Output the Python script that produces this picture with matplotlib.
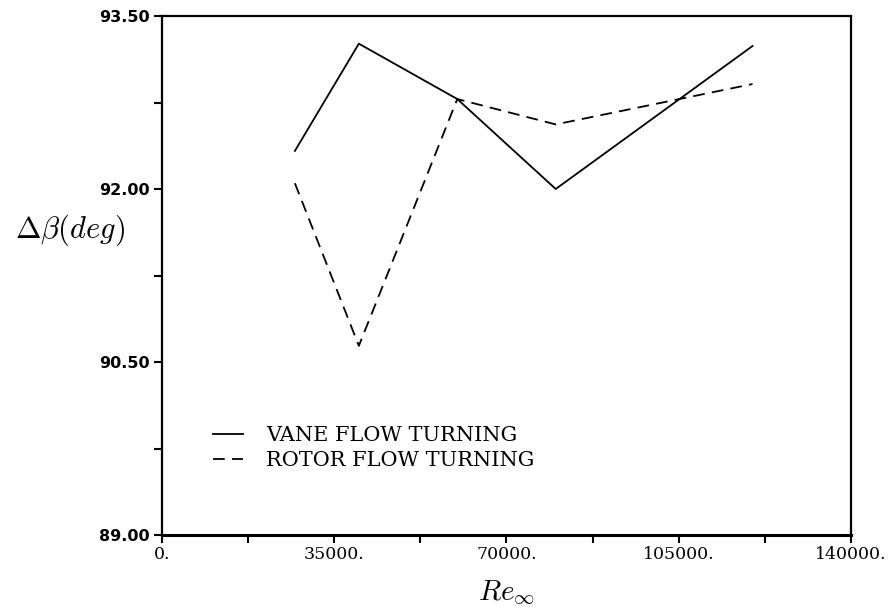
import matplotlib
matplotlib.use("Agg")
import matplotlib.pyplot as plt
from matplotlib.ticker import FuncFormatter

# Reynolds number and flow turning angles
re_inf = [27000, 40000, 60000, 80000, 120000]
vane_turning = [92.33, 93.26, 92.78, 92.00, 93.24]
rotor_turning = [92.05, 90.64, 92.78, 92.56, 92.91]

x_major = [0, 35000, 70000, 105000, 140000]
x_minor = [17500, 52500, 87500, 122500]
y_major = [89.0, 90.5, 92.0, 93.5]
y_minor = [89.75, 91.25, 92.75]

plt.rcParams["mathtext.fontset"] = "cm"

fig = plt.figure(figsize=(8.92, 6.09), dpi=100)
ax = fig.add_axes([162 / 892, 1 - 535 / 609, 689 / 892, 519 / 609])

ax.plot(re_inf, vane_turning, color="black", linewidth=1.3, label="VANE FLOW TURNING")
ax.plot(re_inf, rotor_turning, color="black", linewidth=1.3, linestyle=(0, (6.5, 4)),
        label="ROTOR FLOW TURNING")

ax.set_xlim(0, 140000)
ax.set_ylim(89.0, 93.5)

ax.set_xticks(x_major)
ax.set_xticks(x_minor, minor=True)
ax.set_yticks(y_major)
ax.set_yticks(y_minor, minor=True)
ax.xaxis.set_major_formatter(FuncFormatter(lambda v, p: f"{v:.0f}."))
ax.yaxis.set_major_formatter(FuncFormatter(lambda v, p: f"{v:.2f}"))

ax.tick_params(axis="both", which="both", direction="out", length=6, width=1.5,
               top=False, right=False)
ax.tick_params(axis="x", which="major", pad=2)
ax.tick_params(axis="y", which="major", pad=3)
for lbl in ax.get_xticklabels():
    lbl.set_family("DejaVu Serif")
    lbl.set_fontsize(12.5)
for lbl in ax.get_yticklabels():
    lbl.set_family("DejaVu Sans")
    lbl.set_fontweight("bold")
    lbl.set_fontsize(11.5)

for side in ["top", "right", "left"]:
    ax.spines[side].set_linewidth(1.6)
ax.spines["bottom"].set_linewidth(2.2)

ax.set_xlabel(r"$Re_{\infty}$", fontsize=21)
ax.xaxis.set_label_coords(0.5, -0.112)
ax.xaxis.label.set_va("center")
ax.set_ylabel(r"$\Delta\beta(deg)$", fontsize=22, rotation=0)
ax.yaxis.set_label_coords(-0.134, 0.588)
ax.yaxis.label.set_va("center")
ax.yaxis.label.set_ha("center")

ax.legend(loc="center left", bbox_to_anchor=(0.074, 0.167), frameon=False,
          borderpad=0, borderaxespad=0, handlelength=1.45, handletextpad=1.1,
          labelspacing=0.3, prop={"family": "DejaVu Serif", "size": 15})

fig.savefig("out.png", dpi=100)
